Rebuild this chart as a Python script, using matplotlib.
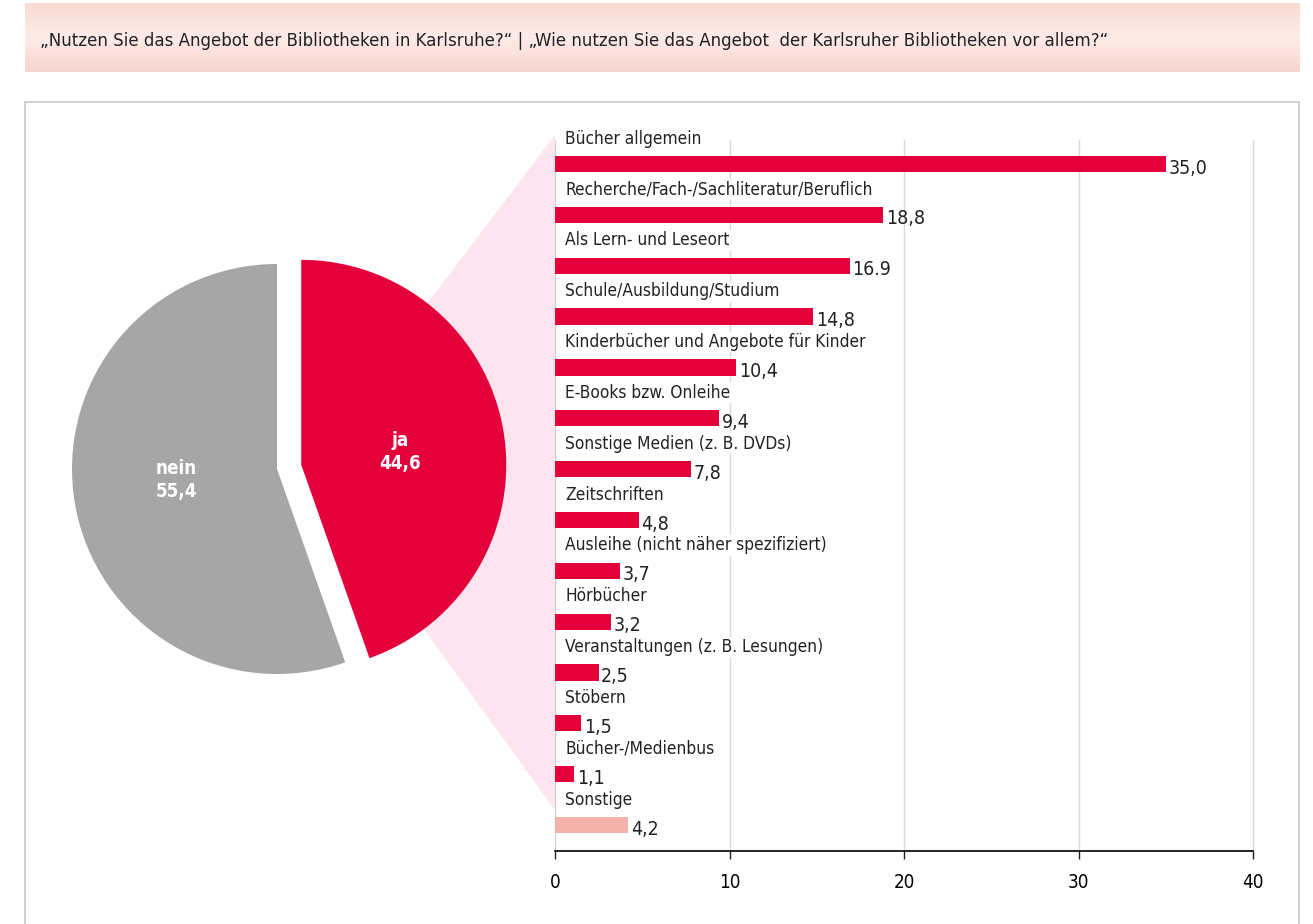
import numpy as np
import matplotlib.pyplot as plt
from matplotlib.patches import Polygon
from matplotlib.lines import Line2D
from matplotlib.colors import LinearSegmentedColormap

# data
pie_labels = ["ja", "nein"]
pie_values = [44.6, 55.4]
pie_texts = ["44,6", "55,4"]

categories = [
    "Bücher allgemein",
    "Recherche/Fach-/Sachliteratur/Beruflich",
    "Als Lern- und Leseort",
    "Schule/Ausbildung/Studium",
    "Kinderbücher und Angebote für Kinder",
    "E-Books bzw. Onleihe",
    "Sonstige Medien (z. B. DVDs)",
    "Zeitschriften",
    "Ausleihe (nicht näher spezifiziert)",
    "Hörbücher",
    "Veranstaltungen (z. B. Lesungen)",
    "Stöbern",
    "Bücher-/Medienbus",
    "Sonstige",
]
values = [35.0, 18.8, 16.9, 14.8, 10.4, 9.4, 7.8, 4.8, 3.7, 3.2, 2.5, 1.5, 1.1, 4.2]
value_texts = ["35,0", "18,8", "16.9", "14,8", "10,4", "9,4", "7,8", "4,8", "3,7",
               "3,2", "2,5", "1,5", "1,1", "4,2"]
xticks = [0, 10, 20, 30, 40]

title = ("\u201eNutzen Sie das Angebot der Bibliotheken in Karlsruhe?\u201c | "
         "\u201eWie nutzen Sie das Angebot  der Karlsruher Bibliotheken vor allem?\u201c")

red = "#e4003a"
grey = "#a6a6a6"
light = "#f4b2aa"
pinkzoom = "#fde4ee"

plt.rcParams['font.family'] = ['DejaVu Sans']
plt.rcParams['font.stretch'] = 'condensed'

W, H = 1313, 924
fig = plt.figure(figsize=(W / 100, H / 100), dpi=100)


def fx(px):
    return px / W


def fy(py):
    return 1 - py / H


# header band with soft vertical gradient
axh = fig.add_axes([fx(25), fy(72), fx(1300) - fx(25), fy(3) - fy(72)])
band = LinearSegmentedColormap.from_list("band", ["#f9dad4", "#fdebe8", "#f8d5cf"])
axh.imshow(np.linspace(0, 1, 100).reshape(-1, 1), cmap=band, aspect="auto",
           extent=(0, 1, 0, 1), origin="upper")
axh.axis("off")
fig.text(fx(40), fy(41), title, fontsize=13.3, color="#222222", va="center", ha="left")

# chart frame
for xs, ys in [([25, 25], [924, 102]), ([25, 1299], [102, 102]), ([1299, 1299], [102, 924])]:
    fig.lines.append(Line2D([fx(x) for x in xs], [fy(y) for y in ys],
                            transform=fig.transFigure, color="#c8c8c8", lw=1.2, zorder=0))

# zoom connector
fig.patches.append(Polygon([(fx(305), fy(465)), (fx(555), fy(135)), (fx(555), fy(810))],
                           closed=True, transform=fig.transFigure,
                           facecolor=pinkzoom, edgecolor="none", zorder=0))

# pie
r = 205
cx, cy = 277, 469
axp = fig.add_axes([fx(cx - r), fy(cy + r), 2 * r / W, 2 * r / H])
axp.set_zorder(2)
axp.patch.set_visible(False)
axp.pie(pie_values, colors=[red, grey], startangle=90, counterclock=False,
        explode=[0.12, 0], radius=1, wedgeprops=dict(linewidth=0))
axp.set_xlim(-1, 1)
axp.set_ylim(-1, 1)
axp.set_aspect("auto")
axp.axis("off")
axp.text(0.80, 0.541, pie_labels[0] + "\n" + pie_texts[0], color="white",
         fontsize=13.5, fontweight="bold", ha="center", va="center", linespacing=1.3,
         transform=axp.transAxes)
axp.text(0.254, 0.473, pie_labels[1] + "\n" + pie_texts[1], color="white",
         fontsize=13.5, fontweight="bold", ha="center", va="center", linespacing=1.3,
         transform=axp.transAxes)

# bars
ax = fig.add_axes([fx(555), fy(851), fx(1253) - fx(555), fy(140) - fy(851)])
ax.set_zorder(2)
ax.patch.set_visible(False)
ypos = list(range(len(categories)))
colors = [red] * (len(categories) - 1) + [light]
ax.barh(ypos, values, height=0.32, color=colors, zorder=3)
ax.set_xlim(0, 40)
ax.set_ylim(13.51, -0.472)
ax.set_yticks([])
ax.set_xticks(xticks)
ax.set_xticklabels([str(t) for t in xticks], fontsize=13.5)
ax.tick_params(axis="x", length=6, width=1, color="#222222", pad=10)
for t in xticks[1:]:
    ax.axvline(t, color="#d9d9d9", lw=1, zorder=0, clip_on=False)
for s in ["top", "right", "left"]:
    ax.spines[s].set_visible(False)
ax.spines["bottom"].set_linewidth(1.2)
ax.axvline(0, color="#d0d0d0", lw=1, zorder=1)

for i, (c, v, t) in enumerate(zip(categories, values, value_texts)):
    ax.text(0.6, i - 0.5, c, fontsize=12.4, color="#222222", va="center", ha="left",
            zorder=4, bbox=dict(facecolor="white", edgecolor="none", pad=1))
    ax.text(v + 0.15, i + 0.08, t, fontsize=14, color="#222222", va="center",
            ha="left", zorder=4)

fig.savefig("out.png", dpi=100)
